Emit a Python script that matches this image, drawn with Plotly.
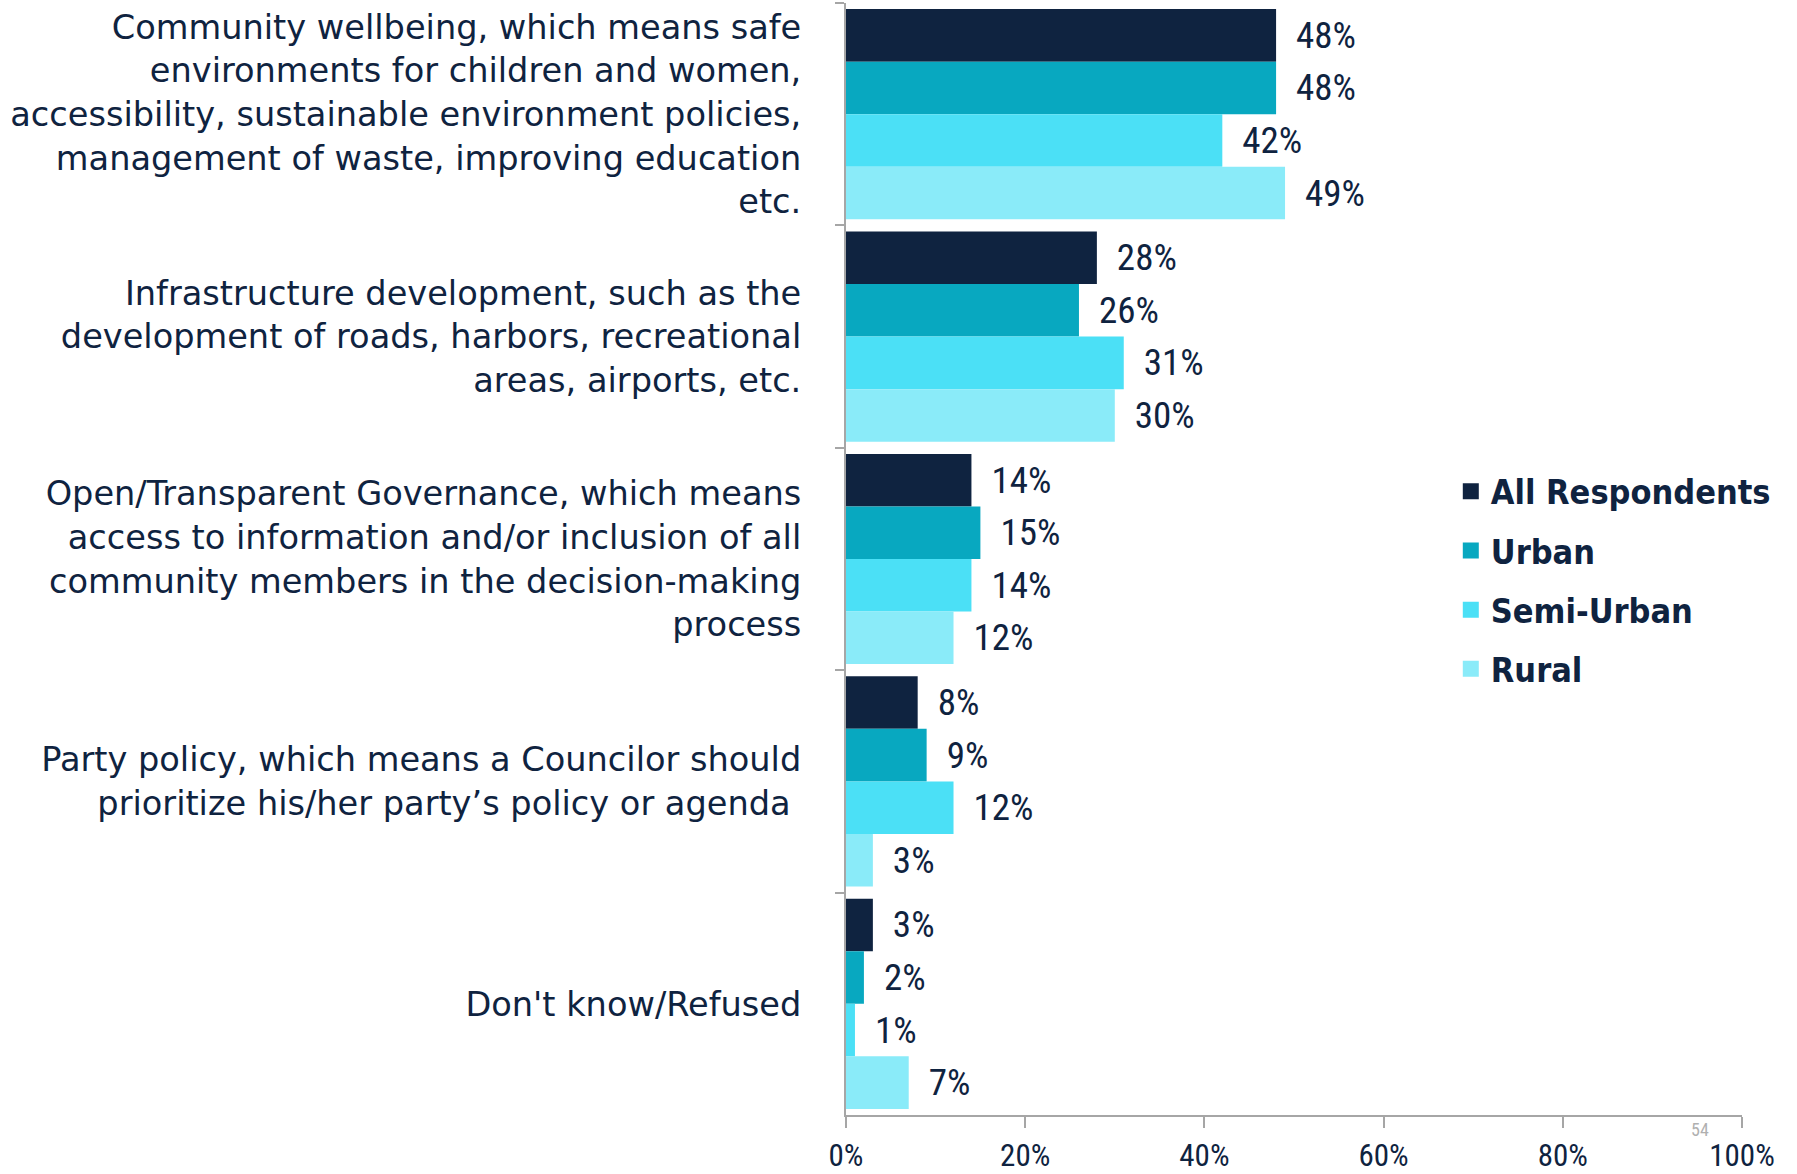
import plotly.graph_objects as go

# Survey categories (top to bottom)
categories = [
    "Community wellbeing, which means safe<br>environments for children and women,<br>"
    "accessibility, sustainable environment policies,<br>management of waste, improving education<br>etc.",
    "Infrastructure development, such as the<br>development of roads, harbors, recreational<br>areas, airports, etc.",
    "Open/Transparent Governance, which means<br>access to information and/or inclusion of all<br>"
    "community members in the decision-making<br>process",
    "Party policy, which means a Councilor should<br>prioritize his/her party’s policy or agenda\u00a0",
    "Don't know/Refused",
]

series_names = ["All Respondents", "Urban", "Semi-Urban", "Rural"]
all_respondents = [48, 28, 14, 8, 3]
urban = [48, 26, 15, 9, 2]
semi_urban = [42, 31, 14, 12, 1]
rural = [49, 30, 12, 3, 7]

x_ticks = [0, 20, 40, 60, 80, 100]
x_tick_labels = ["0%", "20%", "40%", "60%", "80%", "100%"]

colors = ["#0F2340", "#08A8C0", "#4BE0F6", "#8AEBF9"]
navy = "#0F2340"
axis_grey = "#A6A6A6"
label_font = "DejaVu Sans, sans-serif"
legend_font = "DejaVu Sans Condensed, DejaVu Sans, sans-serif"
number_font = "Liberation Sans Narrow, Roboto Condensed, Liberation Sans, sans-serif"

fig = go.Figure()
series = [all_respondents, urban, semi_urban, rural]
for name, vals, col in zip(series_names, series, colors):
    fig.add_trace(go.Bar(
        y=categories,
        x=vals,
        name=name,
        orientation="h",
        marker=dict(color=col, line=dict(width=0)),
        text=["\u00a0\u00a0" + f"{v}%" for v in vals],
        textposition="outside",
        textangle=0,
        textfont=dict(color=navy, size=37, family=number_font),
        cliponaxis=False,
        showlegend=False,
        hoverinfo="x+name",
    ))

# Legend entries with larger square swatches
for name, col in zip(series_names, colors):
    fig.add_trace(go.Scatter(
        x=[None],
        y=[None],
        mode="markers",
        name=name,
        legendgroup=name,
        marker=dict(symbol="square", size=19, color=col, line=dict(width=0)),
        showlegend=True,
    ))

fig.update_layout(
    width=1797,
    height=1174,
    barmode="group",
    bargap=0.055,
    bargroupgap=0,
    plot_bgcolor="white",
    paper_bgcolor="white",
    margin=dict(l=846, r=55, t=3, b=59),
    font=dict(family=label_font, color=navy),
    showlegend=True,
    legend=dict(
        x=0.675,
        y=0.481,
        xanchor="left",
        yanchor="middle",
        traceorder="grouped",
        tracegroupgap=12,
        font=dict(size=34, color=navy, family=legend_font, weight="bold"),
        bgcolor="rgba(0,0,0,0)",
    ),
    xaxis=dict(
        range=[0, 100],
        tickvals=x_ticks,
        ticktext=x_tick_labels,
        showgrid=False,
        zeroline=False,
        showline=True,
        linecolor=axis_grey,
        linewidth=2,
        ticks="outside",
        ticklen=11,
        tickwidth=2,
        tickcolor=axis_grey,
        tickfont=dict(size=31, color=navy, family=number_font),
        ticklabelstandoff=1,
        automargin=False,
        fixedrange=True,
    ),
    yaxis=dict(
        autorange="reversed",
        showgrid=False,
        showline=True,
        linecolor=axis_grey,
        linewidth=2,
        ticks="outside",
        tickson="boundaries",
        ticklen=9,
        tickwidth=2,
        tickcolor=axis_grey,
        tickfont=dict(size=33.6, color=navy, family=label_font),
        ticklabelstandoff=36,
        automargin=False,
        fixedrange=True,
    ),
    annotations=[
        dict(
            text="54",
            x=0.953,
            y=-0.013,
            xref="paper",
            yref="paper",
            xanchor="center",
            yanchor="middle",
            showarrow=False,
            font=dict(size=18, color="#B0B0B0", family=number_font),
        )
    ],
)

fig.write_html("out.html")
